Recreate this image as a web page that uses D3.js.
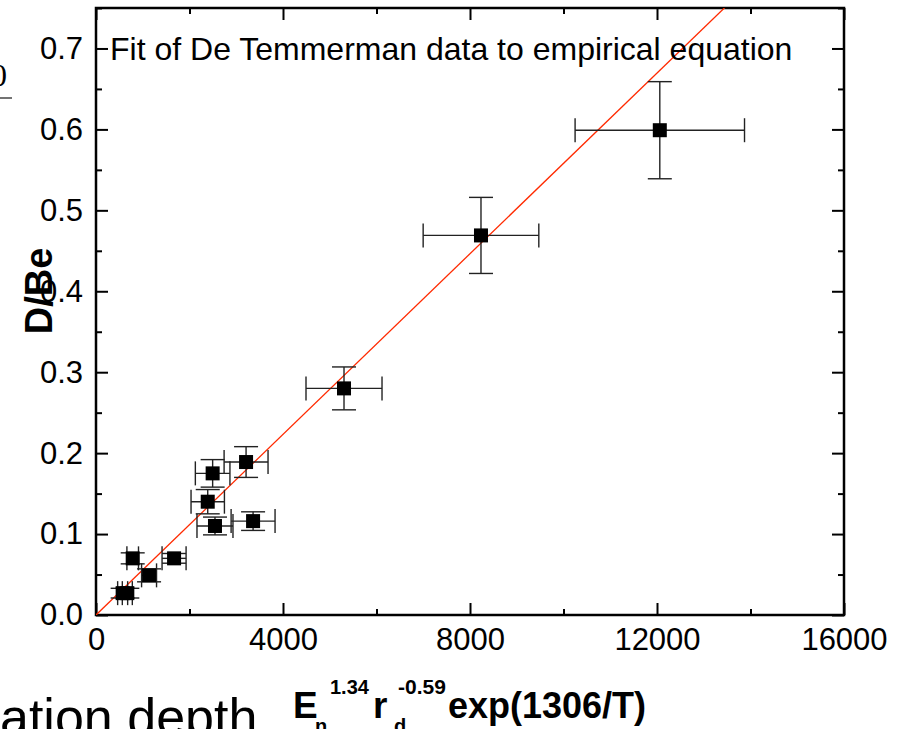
<!DOCTYPE html>
<html>
<head>
<meta charset="utf-8">
<script src="https://cdn.jsdelivr.net/npm/d3@7"></script>
<style>
  body { margin: 0; background: #fff; }
  svg { display: block; font-family: "Liberation Sans", Arial, sans-serif; }
</style>
</head>
<body>
<svg width="907" height="729"></svg>
<script>
// D/Be against the empirical scaling parameter
var xValues = [12060, 8235, 5305, 3210, 2495, 2390, 2545, 3360, 1670, 785, 1135, 570, 670];
var yValues = [0.599, 0.469, 0.280, 0.189, 0.175, 0.140, 0.110, 0.116, 0.070, 0.070, 0.049, 0.027, 0.027];
var xErrors = [1812, 1237, 813, 470, 370, 357, 385, 470, 257, 124, 160, 107, 107];
var yErrors = [0.060, 0.047, 0.0265, 0.019, 0.017, 0.015, 0.011, 0.0115, 0.006, 0.0068, 0.008, 0.006, 0.006];

var xMajorTicks = [0, 4000, 8000, 12000, 16000];
var xMinorTicks = [2000, 6000, 10000, 14000];
var yMajorTicks = [0, 0.1, 0.2, 0.3, 0.4, 0.5, 0.6, 0.7];
var yMinorTicks = [0.05, 0.15, 0.25, 0.35, 0.45, 0.55, 0.65, 0.75];

var fitSlope = 5.58e-5;   // straight line through the origin
var fitRange = [0, 16000];

var svg = d3.select('svg');
var box = {l: 96, r: 844, t: 8, b: 615};

var xScale = d3.scaleLinear().domain([0, 16000]).range([box.l, box.r]);
var yScale = d3.scaleLinear().domain([0, 0.75]).range([box.b, box.t]);

var fontSize = 31;

// clip for the fit line
svg.append('clipPath').attr('id', 'plotClip')
  .append('rect')
    .attr('x', box.l).attr('y', box.t)
    .attr('width', box.r - box.l).attr('height', box.b - box.t);

// ---- axes (ticks point inward on all four sides)
function styleAxis(g) {
  g.select('.domain').remove();
  g.selectAll('.tick line').attr('stroke', '#000').attr('stroke-width', 2);
  g.selectAll('.tick text')
    .attr('fill', '#000')
    .style('font-size', fontSize + 'px')
    .style('font-family', '"Liberation Sans", Arial, sans-serif');
}

svg.append('g')
  .attr('transform', 'translate(0,' + box.b + ')')
  .call(d3.axisBottom(xScale).tickValues(xMajorTicks).tickSize(-12).tickPadding(13).tickFormat(d3.format('d')))
  .call(styleAxis);
svg.append('g')
  .attr('transform', 'translate(0,' + box.b + ')')
  .call(d3.axisBottom(xScale).tickValues(xMinorTicks).tickSize(-6).tickFormat(''))
  .call(styleAxis);
svg.append('g')
  .attr('transform', 'translate(0,' + box.t + ')')
  .call(d3.axisTop(xScale).tickValues(xMajorTicks).tickSize(-12).tickFormat(''))
  .call(styleAxis);
svg.append('g')
  .attr('transform', 'translate(0,' + box.t + ')')
  .call(d3.axisTop(xScale).tickValues(xMinorTicks).tickSize(-6).tickFormat(''))
  .call(styleAxis);

svg.append('g')
  .attr('transform', 'translate(' + box.l + ',0)')
  .call(d3.axisLeft(yScale).tickValues(yMajorTicks).tickSize(-12).tickPadding(13).tickFormat(d3.format('.1f')))
  .call(styleAxis);
svg.append('g')
  .attr('transform', 'translate(' + box.l + ',0)')
  .call(d3.axisLeft(yScale).tickValues(yMinorTicks).tickSize(-6).tickFormat(''))
  .call(styleAxis);
svg.append('g')
  .attr('transform', 'translate(' + box.r + ',0)')
  .call(d3.axisRight(yScale).tickValues(yMajorTicks).tickSize(-12).tickFormat(''))
  .call(styleAxis);
svg.append('g')
  .attr('transform', 'translate(' + box.r + ',0)')
  .call(d3.axisRight(yScale).tickValues(yMinorTicks).tickSize(-6).tickFormat(''))
  .call(styleAxis);

// frame
svg.append('rect')
  .attr('x', box.l).attr('y', box.t)
  .attr('width', box.r - box.l).attr('height', box.b - box.t)
  .attr('fill', 'none').attr('stroke', '#000').attr('stroke-width', 2.5);

// ---- fit line
var line = d3.line()
  .x(function(d) { return xScale(d); })
  .y(function(d) { return yScale(fitSlope * d); });
svg.append('path')
  .datum(fitRange)
  .attr('clip-path', 'url(#plotClip)')
  .attr('d', line)
  .attr('fill', 'none')
  .attr('stroke', '#ff2a00')
  .attr('stroke-width', 1.3);

// ---- error bars
var points = xValues.map(function(x, i) {
  return {x: x, y: yValues[i], ex: xErrors[i], ey: yErrors[i]};
});
var cap = 12;
var errG = svg.append('g').attr('stroke', '#222').attr('stroke-width', 1.4).attr('fill', 'none');
points.forEach(function(p) {
  var cx = xScale(p.x), cy = yScale(p.y);
  var x0 = xScale(p.x - p.ex), x1 = xScale(p.x + p.ex);
  var y0 = yScale(p.y - p.ey), y1 = yScale(p.y + p.ey);
  var g = errG.append('g');
  g.append('line').attr('x1', x0).attr('x2', x1).attr('y1', cy).attr('y2', cy);
  g.append('line').attr('x1', x0).attr('x2', x0).attr('y1', cy - cap).attr('y2', cy + cap);
  g.append('line').attr('x1', x1).attr('x2', x1).attr('y1', cy - cap).attr('y2', cy + cap);
  g.append('line').attr('x1', cx).attr('x2', cx).attr('y1', y0).attr('y2', y1);
  g.append('line').attr('x1', cx - cap).attr('x2', cx + cap).attr('y1', y0).attr('y2', y0);
  g.append('line').attr('x1', cx - cap).attr('x2', cx + cap).attr('y1', y1).attr('y2', y1);
});

// ---- squares
var sq = 14;
svg.append('g').selectAll('rect')
  .data(points)
  .enter().append('rect')
    .attr('x', function(d) { return xScale(d.x) - sq / 2; })
    .attr('y', function(d) { return yScale(d.y) - sq / 2; })
    .attr('width', sq).attr('height', sq)
    .attr('fill', '#000');

// ---- in-plot title
svg.append('text')
  .attr('x', 110).attr('y', yScale(0.7) + 12)
  .style('font-size', '32px')
  .attr('fill', '#000')
  .text('Fit of De Temmerman data to empirical equation');

// ---- y label
svg.append('text')
  .attr('transform', 'translate(52,291) rotate(-90)')
  .attr('text-anchor', 'middle')
  .style('font-size', '38px').style('font-weight', 'bold')
  .text('D/Be');

// ---- x label  E_n^1.34 r_d^-0.59 exp(1306/T)
var xl = svg.append('g').style('font-weight', 'bold').attr('fill', '#000');
xl.append('text').attr('x', 293).attr('y', 718).style('font-size', '37px').text('E');
xl.append('text').attr('x', 315).attr('y', 733).style('font-size', '20px').text('n');
xl.append('text').attr('x', 330).attr('y', 694).style('font-size', '20px').text('1.34');
xl.append('text').attr('x', 373).attr('y', 718).style('font-size', '37px').text('r');
xl.append('text').attr('x', 394).attr('y', 733).style('font-size', '20px').text('d');
xl.append('text').attr('x', 398).attr('y', 694).style('font-size', '21px').text('-0.59');
xl.append('text').attr('x', 448).attr('y', 718).style('font-size', '36px').text('exp(1306/T)');

// ---- slide fragments cut off by the crop
svg.append('text')
  .attr('x', 0).attr('y', 735)
  .style('font-size', '52px')
  .text('ation depth');
svg.append('text')
  .attr('x', -9).attr('y', 86)
  .style('font-family', '"Liberation Serif", "DejaVu Serif", serif')
  .style('font-size', '32px')
  .text('0');
svg.append('line')
  .attr('x1', 0).attr('x2', 12).attr('y1', 98).attr('y2', 98)
  .attr('stroke', '#444').attr('stroke-width', 1.5);
</script>
</body>
</html>
